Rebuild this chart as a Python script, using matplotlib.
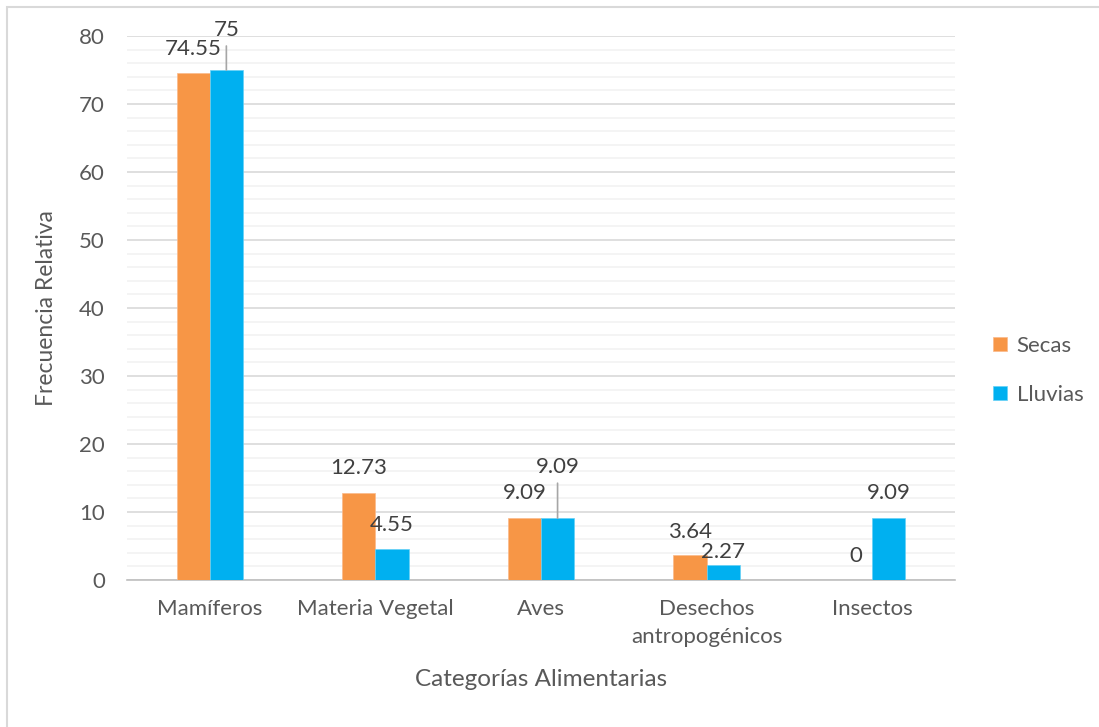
import matplotlib.pyplot as plt
import numpy as np
from matplotlib.patches import Rectangle

# Datos de frecuencia relativa por categoría y temporada
categorias = ["Mamíferos", "Materia Vegetal", "Aves", "Desechos\nantropogénicos", "Insectos"]
secas = [74.55, 12.73, 9.09, 3.64, 0]
lluvias = [75, 4.55, 9.09, 2.27, 9.09]

# desplazamiento de cada etiqueta (en pixeles) respecto al tope de su barra
off_secas = [(0, 24), (0, 25), (0, 25), (0, 23), (0, 24)]
off_lluvias = [(0, 40), (0, 24), (0, 51), (0, 13), (0, 25)]
con_linea = [True, False, True, False, False]

plt.rcParams["font.family"] = ["Lato", "DejaVu Sans"]
FS = 16

fig = plt.figure(figsize=(10.99, 7.27), dpi=100)
ax = fig.add_axes([127 / 1099, 1 - 580 / 727, 828 / 1099, 544 / 727])

# marco del gráfico
fig.patches.append(Rectangle((7 / 1099, -0.1), 1.2, (1 - 7 / 727) + 0.1,
                             transform=fig.transFigure, fill=False,
                             edgecolor="#d9d9d9", linewidth=1.5))

x = np.arange(len(categorias))
w = 0.2
b1 = ax.bar(x - w / 2, secas, w, color="#F79646", edgecolor="#fbb98a", linewidth=0.5, label="Secas", zorder=3)
b2 = ax.bar(x + w / 2, lluvias, w, color="#00B0F0", edgecolor="#66d0f6", linewidth=0.5, label="Lluvias", zorder=3)

ax.set_xlim(-0.5, len(categorias) - 0.5)
ax.set_ylim(0, 80)
ax.set_yticks(np.arange(0, 81, 10))
ax.set_yticks(np.arange(0, 81, 2), minor=True)
ax.grid(axis="y", which="major", color="#d9d9d9", linewidth=1.2, zorder=0)
ax.grid(axis="y", which="minor", color="#f2f2f2", linewidth=1.2, zorder=0)
ax.set_axisbelow(True)
for s in ["top", "right", "left"]:
    ax.spines[s].set_visible(False)
ax.spines["bottom"].set_color("#bfbfbf")
ax.spines["bottom"].set_linewidth(1.2)

ax.set_xticks(x)
ax.set_xticklabels(categorias, fontsize=FS, color="#595959", linespacing=1.45)
ax.tick_params(axis="x", length=0, pad=14)
ax.tick_params(axis="y", which="both", length=0, pad=16, labelsize=FS, labelcolor="#595959")

ax.set_ylabel("Frecuencia Relativa", fontsize=FS + 0.5, color="#595959", labelpad=16)
ax.set_xlabel("Categorías Alimentarias", fontsize=FS + 1.5, color="#595959", labelpad=16)

# etiquetas de datos
for rect, val, off in zip(b1, secas, off_secas):
    ax.annotate(f"{val:g}", (rect.get_x() + rect.get_width() / 2, val),
                xytext=off, textcoords="offset pixels", ha="center", va="center",
                fontsize=FS, color="#404040")
for rect, val, off, linea in zip(b2, lluvias, off_lluvias, con_linea):
    cx = rect.get_x() + rect.get_width() / 2
    ax.annotate(f"{val:g}", (cx, val), xytext=off, textcoords="offset pixels",
                ha="center", va="center", fontsize=FS, color="#404040")
    if linea:
        ax.annotate("", (cx, val), xytext=(0, off[1] - 16), textcoords="offset pixels",
                    arrowprops=dict(arrowstyle="-", color="#a6a6a6", lw=1.2,
                                    shrinkA=0, shrinkB=0))

leg = ax.legend(loc="center left", bbox_to_anchor=(1.022, 0.385), frameon=False,
                fontsize=FS, handlelength=0.6, handleheight=0.6, labelspacing=1.3,
                handletextpad=0.45)
for t in leg.get_texts():
    t.set_color("#595959")

fig.savefig("out.png", dpi=100)
